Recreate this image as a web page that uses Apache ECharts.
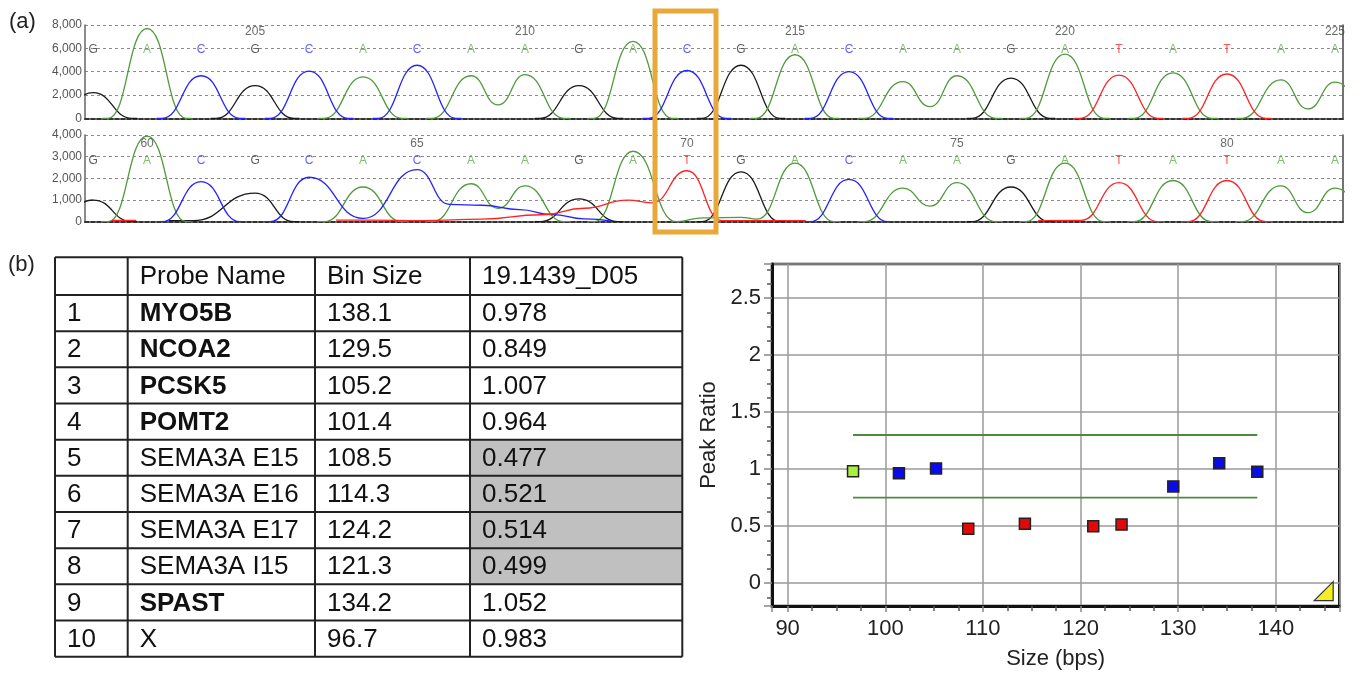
<!DOCTYPE html>
<html><head><meta charset="utf-8">
<script src="https://cdn.jsdelivr.net/npm/echarts@6/dist/echarts.min.js"></script>
<style>html,body{margin:0;padding:0;background:#fff}#chart{width:1366px;height:675px}</style>
</head><body><div id="chart"></div>
<script>
// ---------- (a) chromatogram data ----------
const topBases = ['G','A','C','G','C','A','C','A','A','G','A','C','G','A','C','A','A','G','A','T','A','T','A','A'];
const topPeaks = [2200,7700,3650,2800,4050,3550,4550,3650,3750,2800,6600,4100,4550,5450,4000,3150,3650,3450,5500,3700,3900,3800,3300,3100];
const topStartPos = 202;
const topValleys = {A: [[8.5,1150],[16.5,1000],[23.5,800]]};
const topNoise = {};
const topTicks = [0,2000,4000,6000,8000];

const lowBases = ['G','A','C','G','C','A','C','A','A','G','A','T','G','A','C','A','A','G','A','T','A','T','A','A'];
const lowPeaks = [1000,3950,1850,1320,2050,1600,2400,1750,1650,1050,3250,2350,2300,2700,1950,1550,1800,1600,2700,1800,1900,1900,1650,1550];
const lowStartPos = 59;
const lowValleys = {A: [[8.5,620],[16.5,720],[23.5,415]], C: [[6.0,150]]};
const lowNoise = {
  C: [[7.6,800],[8.2,760],[8.9,560],[9.5,330],[10.1,130],[10.6,30]],
  T: [[1.35,60],[1.8,60],[5.5,70],[6.1,70],[7.1,50],[8.2,120],[9.3,320],[10.1,620],[10.9,1000],[11.35,870],[12.65,50],[13.4,50],[14.2,50],[18.5,50],[19.3,60]],
  A: [[11.8,0],[12.3,180],[13.0,200],[13.3,120]],
  G: [[2.4,50],[2.85,50]]
};
const lowTicks = [0,1000,2000,3000,4000];

// ---------- (b) table / peak ratio data ----------
const tableHeader = ['', 'Probe Name', 'Bin Size', '19.1439_D05'];
const probeNames = ['MYO5B','NCOA2','PCSK5','POMT2','SEMA3A E15','SEMA3A E16','SEMA3A E17','SEMA3A I15','SPAST','X'];
const binSizes = [138.1,129.5,105.2,101.4,108.5,114.3,124.2,121.3,134.2,96.7];
const peakRatios = [0.978,0.849,1.007,0.964,0.477,0.521,0.514,0.499,1.052,0.983];
const probeTypes = ['ref','ref','ref','ref','test','test','test','test','ref','ctrl'];
const upperLimit = 1.3;
const lowerLimit = 0.75;
const cornerMarker = [144.9, -0.07];

// ---------- styles ----------
const FONT = 'Liberation Sans, Arial, sans-serif';
const traceColors = {A:'#4f9a3a', C:'#2222ff', G:'#1a1a1a', T:'#ff2222'};
const letterColors = {A:'#62b04a', C:'#3a3aff', G:'#333333', T:'#ff2a2a'};
const typeColors = {ref:'#0a0aee', test:'#e00a0a', ctrl:'#a6f040'};

function buildTrace(bases, peaks, ch, valleys, noise, w) {
  const pts = [];
  bases.forEach((b, i) => { if (b === ch) pts.push({x: i + 1, y: peaks[i], peak: true}); });
  (valleys[ch] || []).forEach(p => pts.push({x: p[0], y: p[1]}));
  (noise[ch] || []).forEach(p => pts.push({x: p[0], y: p[1]}));
  pts.sort((a, b) => a.x - b.x);
  const out = [];
  for (let k = 0; k < pts.length; k++) {
    const p = pts[k], prev = pts[k - 1], next = pts[k + 1];
    const joinPrev = prev && (p.x - prev.x) < 1.2;
    const joinNext = next && (next.x - p.x) < 1.2;
    if (!joinPrev && p.peak) { out.push([p.x - w - 0.1, 0]); out.push([p.x - w, 0]); }
    out.push([p.x, p.y]);
    if (!joinNext) {
      if (p.peak) { out.push([p.x + w, 0]); out.push([p.x + w + 0.1, 0]); }
      out.push([p.x + w + 0.15, '-']);
    }
  }
  return out;
}

function panelSeries(gi, bases, peaks, valleys, noise, letterY, numY, startPos) {
  const s = [];
  ['G','A','C','T'].forEach(ch => {
    s.push({
      type: 'line', xAxisIndex: gi, yAxisIndex: gi * 2,
      data: buildTrace(bases, peaks, ch, valleys, noise, 0.72),
      smooth: 0.5, smoothMonotone: 'x', symbol: 'none', silent: true,
      lineStyle: {color: traceColors[ch], width: 1.3}, z: 2
    });
  });
  s.push({
    type: 'scatter', xAxisIndex: gi, yAxisIndex: gi * 2, symbolSize: 1, silent: true,
    itemStyle: {color: 'rgba(0,0,0,0)'},
    data: bases.map((b, i) => ({name: b, value: [i + 1, letterY], label: {color: letterColors[b]}})),
    label: {show: true, position: 'inside', formatter: p => p.name, fontSize: 12, fontFamily: FONT},
    z: 5
  });
  s.push({
    type: 'scatter', xAxisIndex: gi, yAxisIndex: gi * 2, symbolSize: 1, silent: true,
    itemStyle: {color: 'rgba(0,0,0,0)'},
    data: bases.map((b, i) => ({name: String(startPos + i), value: [i + 1, numY]})).filter(d => (+d.name) % 5 === 0),
    label: {show: true, position: 'inside', formatter: p => p.name, fontSize: 12, color: '#444', fontFamily: FONT},
    z: 5
  });
  return s;
}

function chromX(gi) {
  return {
    type: 'value', gridIndex: gi, min: 0.85, max: 24.15,
    axisLabel: {show: false}, axisTick: {show: false}, splitLine: {show: false},
    axisLine: {show: true, onZero: false, lineStyle: {color: '#333', width: 2, type: [4, 2]}}
  };
}
function chromY(gi, ticks) {
  const max = ticks[ticks.length - 1];
  return [{
    type: 'value', gridIndex: gi, min: 0, max: max, interval: ticks[1] - ticks[0],
    axisLine: {show: true, lineStyle: {color: '#666', width: 1.5}},
    axisTick: {show: false},
    axisLabel: {fontSize: 12, color: '#555', margin: 3, fontFamily: FONT, formatter: v => v.toLocaleString('en-US')},
    splitLine: {show: true, lineStyle: {color: '#8a8a8a', type: [3, 3], width: 1}}
  }, {
    type: 'value', gridIndex: gi, min: 0, max: max, position: 'right',
    axisLine: {show: true, lineStyle: {color: '#444', width: 1.5}},
    axisTick: {show: false}, axisLabel: {show: false}, splitLine: {show: false}
  }];
}

// ---------- table graphics ----------
const colX = [55, 127.7, 315, 470, 682.3];
const headTop = 257.3, headBottom = 295, rowH = 36.17;
const tableGraphics = [];
probeTypes.forEach((t, i) => {
  if (t === 'test') {
    tableGraphics.push({type: 'rect', shape: {x: colX[3], y: headBottom + i * rowH, width: colX[4] - colX[3], height: rowH},
      style: {fill: '#c0c0c0'}, z: 1});
  }
});
const rowLinesY = [headTop, headBottom].concat(probeNames.map((_, i) => headBottom + (i + 1) * rowH));
rowLinesY.forEach(y => tableGraphics.push({type: 'line', shape: {x1: colX[0], y1: y, x2: colX[4], y2: y},
  style: {stroke: '#222', lineWidth: 2}, z: 3}));
colX.forEach(x => tableGraphics.push({type: 'line', shape: {x1: x, y1: headTop, x2: x, y2: rowLinesY[rowLinesY.length - 1]},
  style: {stroke: '#222', lineWidth: 2}, z: 3}));
function cellText(txt, col, yMid, bold) {
  tableGraphics.push({type: 'text', x: colX[col] + 12, y: yMid,
    style: {text: txt, fill: '#111', font: (bold ? 'bold ' : '') + '26px ' + FONT, verticalAlign: 'middle', textAlign: 'left'}, z: 4});
}
tableHeader.forEach((h, c) => cellText(h, c, (headTop + headBottom) / 2 + 1, false));
probeNames.forEach((n, i) => {
  const ym = headBottom + (i + 0.5) * rowH + 1;
  cellText(String(i + 1), 0, ym, false);
  cellText(n, 1, ym, probeTypes[i] === 'ref');
  cellText(binSizes[i].toFixed(1), 2, ym, false);
  cellText(peakRatios[i].toFixed(3), 3, ym, false);
});

// ---------- scatter ----------
const pointData = binSizes.map((b, i) => ({value: [b, peakRatios[i]], itemStyle: {color: typeColors[probeTypes[i]]}}));
const xLo = Math.min(...binSizes), xHi = Math.max(...binSizes);

const chart = echarts.init(document.getElementById('chart'), null, {renderer: 'canvas'});
chart.setOption({
  animation: false,
  backgroundColor: '#fff',
  grid: [
    {left: 85, top: 25, width: 1258, height: 93.3},
    {left: 85, top: 135, width: 1258, height: 86.7},
    {left: 772, top: 264, width: 567.3, height: 342.7, show: true, borderColor: '#111', borderWidth: 2.5, backgroundColor: 'transparent'}
  ],
  xAxis: [
    chromX(0), chromX(1),
    {
      type: 'value', gridIndex: 2, min: 88.4, max: 146.5,
      name: 'Size (bps)', nameLocation: 'middle', nameGap: 42,
      nameTextStyle: {fontSize: 22, color: '#222', fontFamily: FONT},
      axisLine: {show: true, onZero: false, lineStyle: {color: '#111', width: 3}},
      axisTick: {show: true, length: 6, lineStyle: {color: '#888', width: 1.5}},
      minorTick: {show: true, splitNumber: 4, length: 5, lineStyle: {color: '#555', width: 1.5}},
      axisLabel: {fontSize: 22, color: '#222', margin: 12, fontFamily: FONT, showMinLabel: false, showMaxLabel: false},
      splitLine: {show: true, lineStyle: {color: '#9a9a9a', width: 1.5}}
    }
  ],
  yAxis: chromY(0, topTicks).concat(chromY(1, lowTicks)).concat([{
    type: 'value', gridIndex: 2, min: -0.2, max: 2.8,
    name: 'Peak Ratio', nameLocation: 'middle', nameGap: 52, nameRotate: 90,
    nameTextStyle: {fontSize: 22, color: '#222', fontFamily: FONT},
    axisLine: {show: true, onZero: false, lineStyle: {color: '#111', width: 3}},
    axisTick: {show: true, length: 8, lineStyle: {color: '#888', width: 1.5}},
    minorTick: {show: true, splitNumber: 4, length: 5, lineStyle: {color: '#555', width: 1.5}},
    axisLabel: {fontSize: 22, color: '#222', margin: 11, fontFamily: FONT, showMinLabel: false, showMaxLabel: false},
    splitLine: {show: true, lineStyle: {color: '#9a9a9a', width: 1.5}}
  }]),
  series: panelSeries(0, topBases, topPeaks, topValleys, topNoise, 5900, 7400, topStartPos)
    .concat(panelSeries(1, lowBases, lowPeaks, lowValleys, lowNoise, 2800, 3585, lowStartPos))
    .concat([
      {type: 'line', xAxisIndex: 2, yAxisIndex: 4, symbol: 'none', silent: true,
       data: [[xLo, upperLimit], [xHi, upperLimit], [xHi, '-'], [xLo, lowerLimit], [xHi, lowerLimit]],
       lineStyle: {color: '#4a8c3c', width: 1.8}, z: 3},
      {type: 'scatter', xAxisIndex: 2, yAxisIndex: 4, symbol: 'rect', symbolSize: 11, data: pointData,
       itemStyle: {borderColor: '#222', borderWidth: 1.5, opacity: 1}, z: 5},
      {type: 'scatter', xAxisIndex: 2, yAxisIndex: 4, symbol: 'path://M20,0 L20,20 L0,20 Z', symbolSize: 19,
       data: [cornerMarker], itemStyle: {color: '#f4f020', borderColor: '#333', borderWidth: 1.2, opacity: 1}, z: 6}
    ]),
  graphic: tableGraphics.concat([
    {type: 'text', x: 9, y: 22, style: {text: '(a)', font: '22px ' + FONT, fill: '#222', verticalAlign: 'middle'}, z: 10},
    {type: 'text', x: 8, y: 265, style: {text: '(b)', font: '22px ' + FONT, fill: '#222', verticalAlign: 'middle'}, z: 10},
    {type: 'rect', shape: {x: 655, y: 11, width: 61, height: 221}, style: {fill: 'none', stroke: '#e8a83a', lineWidth: 5}, z: 20}
  ])
});
</script>
</body></html>
